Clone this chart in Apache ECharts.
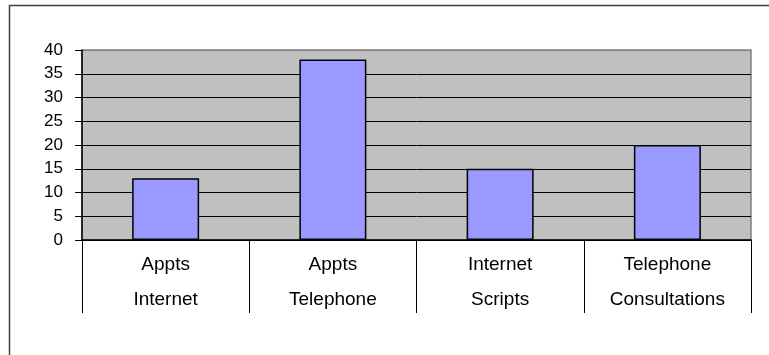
<!DOCTYPE html>
<html>
<head>
<meta charset="utf-8">
<script src="https://cdn.jsdelivr.net/npm/echarts@6/dist/echarts.min.js"></script>
<style>
  html, body { margin: 0; padding: 0; background: #fff; }
  #chart { width: 769px; height: 355px; }
</style>
</head>
<body>
<div id="chart"></div>
<script>
// Appointment / script / consultation counts by channel
const categories = ['Appts\nInternet', 'Appts\nTelephone', 'Internet\nScripts', 'Telephone\nConsultations'];
const counts = [13, 38, 15, 20];
const yTicks = [0, 5, 10, 15, 20, 25, 30, 35, 40];

const chart = echarts.init(document.getElementById('chart'), null, { renderer: 'canvas' });

// Gridlines are black, except the top one which is part of the grey plot frame
const splitColors = yTicks.map((v, i) => i === yTicks.length - 1 ? '#808080' : '#000000');

chart.setOption({
  animation: false,
  graphic: [{
    type: 'rect',
    shape: { x: 9.5, y: 5.5, width: 800, height: 400 },
    style: { fill: 'none', stroke: '#404040', lineWidth: 1.5 },
    z: -10
  }],
  grid: {
    left: 82, right: 18, top: 50, bottom: 115,
    show: true,
    backgroundColor: '#C0C0C0',
    borderColor: '#808080',
    borderWidth: 1.5
  },
  xAxis: {
    type: 'category',
    data: categories,
    axisLine: { show: true, lineStyle: { color: '#000', width: 1.5 } },
    axisTick: { show: true, length: 73, alignWithLabel: false, interval: 0, lineStyle: { color: '#000', width: 1 } },
    axisLabel: {
      interval: 0,
      color: '#000',
      fontFamily: 'Liberation Sans, Arial, sans-serif',
      fontSize: 19,
      lineHeight: 35,
      margin: 7
    },
    splitLine: { show: false }
  },
  yAxis: {
    type: 'value',
    min: 0, max: 40, interval: 5,
    axisLine: { show: true, lineStyle: { color: '#000', width: 1.5 } },
    axisTick: { show: true, length: 7, lineStyle: { color: '#000' } },
    axisLabel: {
      color: '#000',
      fontFamily: 'Liberation Sans, Arial, sans-serif',
      fontSize: 17,
      margin: 19
    },
    splitLine: { show: true, lineStyle: { color: splitColors, width: 1 } }
  },
  series: [{
    type: 'bar',
    data: counts,
    barWidth: 67,
    itemStyle: { color: '#9999FF', borderColor: '#000', borderWidth: 1.5 }
  }]
});
</script>
</body>
</html>
